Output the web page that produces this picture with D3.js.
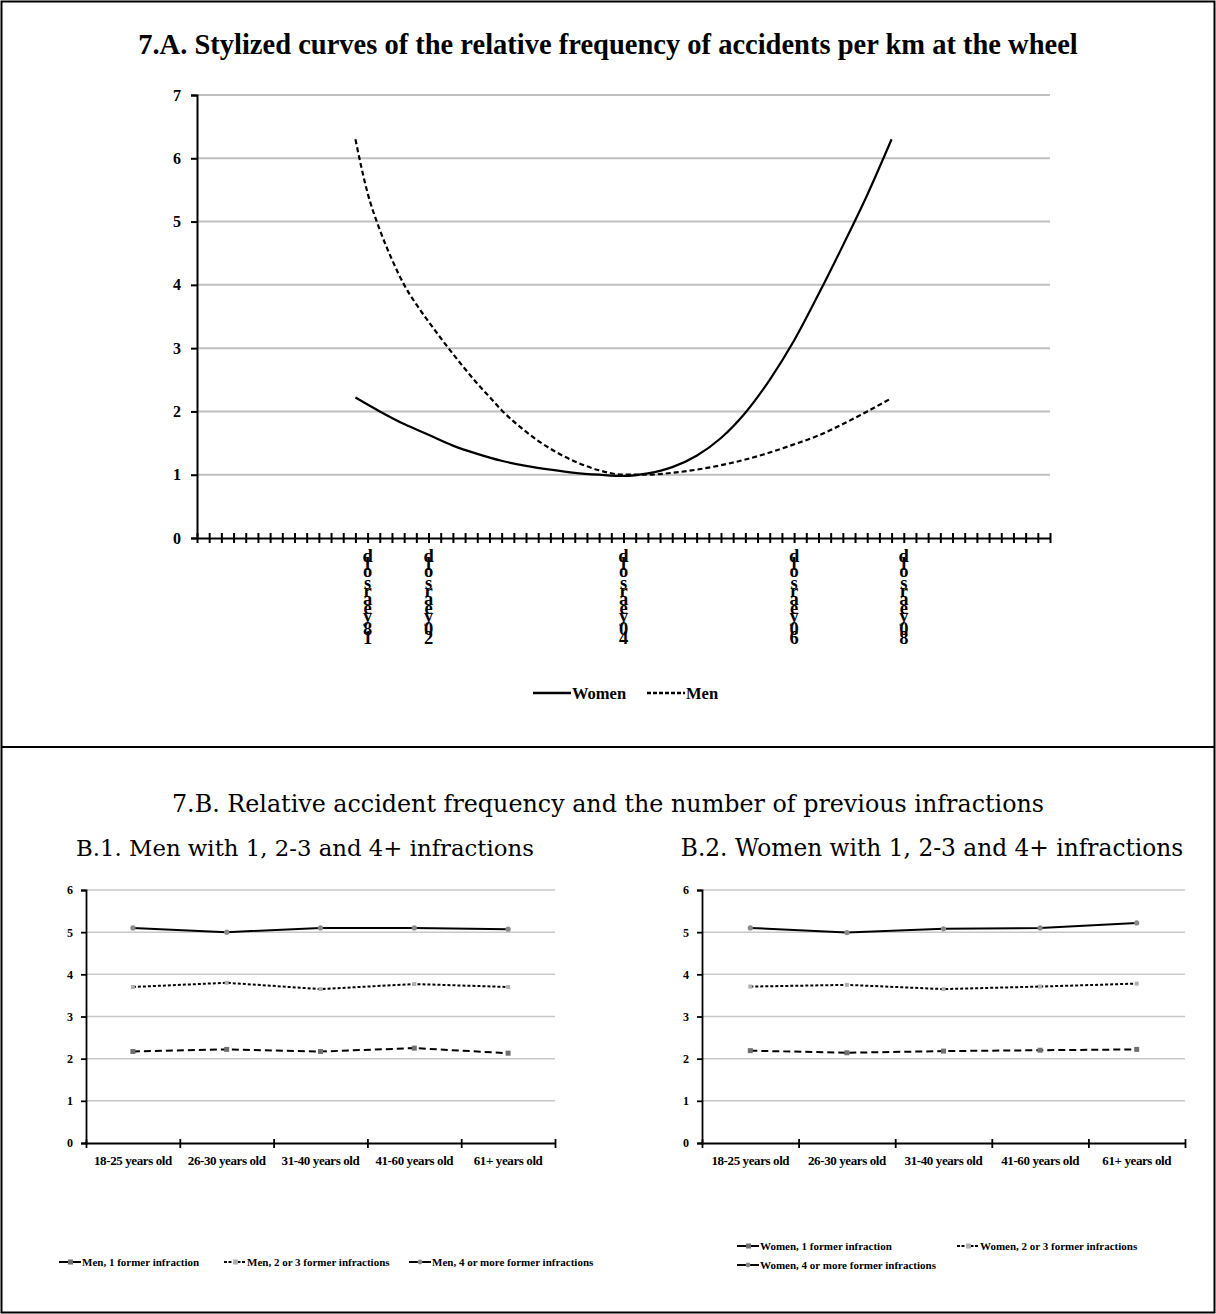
<!DOCTYPE html>
<html>
<head>
<meta charset="utf-8">
<script src="https://cdn.jsdelivr.net/npm/d3@7/dist/d3.min.js"></script>
<style>
  body { margin: 0; background: #fff; }
  svg text { font-family: "Liberation Serif", "Times New Roman", serif; fill: #000; }
</style>
</head>
<body>
<script>
// ---------- data: 7.A ----------
var topYTicks = [0, 1, 2, 3, 4, 5, 6, 7];
var topCategoryCount = 70;
var ageLabels = ["18 years old", "20 years old", "40 years old", "60 years old", "80 years old"];
var ageLabelIndex = [14, 19, 35, 49, 58];

var womenIndex = [13, 15, 17, 19, 21, 23, 25, 27, 29, 31, 33, 35, 37, 39, 41, 43, 45, 47, 49, 51, 53, 55, 57];
var womenValues = [2.22, 2.0, 1.8, 1.63, 1.46, 1.33, 1.22, 1.14, 1.08, 1.03, 1.0, 0.98, 1.02, 1.12, 1.3, 1.58, 1.98, 2.5, 3.12, 3.85, 4.62, 5.42, 6.3];

var menIndex = [13, 14, 15, 16, 17, 18, 19, 20, 21, 22, 23, 24, 25, 27, 29, 31, 33, 35, 37, 39, 41, 43, 45, 47, 49, 51, 53, 55, 57];
var menValues = [6.3, 5.45, 4.87, 4.4, 4.0, 3.69, 3.42, 3.16, 2.91, 2.67, 2.44, 2.23, 2.02, 1.68, 1.41, 1.21, 1.07, 1.0, 1.0, 1.03, 1.08, 1.15, 1.24, 1.35, 1.48, 1.62, 1.8, 2.0, 2.21];

// ---------- data: 7.B ----------
var ageGroups = ["18-25 years old", "26-30 years old", "31-40 years old", "41-60 years old", "61+ years old"];
var bottomYTicks = [0, 1, 2, 3, 4, 5, 6];

var men1 = [2.17, 2.22, 2.17, 2.25, 2.13];
var men23 = [3.7, 3.8, 3.65, 3.77, 3.7];
var men4 = [5.1, 5.0, 5.1, 5.1, 5.07];

var women1 = [2.19, 2.14, 2.18, 2.2, 2.22];
var women23 = [3.71, 3.75, 3.65, 3.71, 3.78];
var women4 = [5.1, 4.99, 5.08, 5.1, 5.22];

var menNames = ["Men, 1 former infraction", "Men, 2 or 3 former infractions", "Men, 4 or more former infractions"];
var womenNames = ["Women, 1 former infraction", "Women, 2 or 3 former infractions", "Women, 4 or more former infractions"];

// line styles per series (1, 2-3, 4+)
var dashes = ["7,4", "3,2", null];
var markerFill = ["#707070", "#b0b0b0", "#8a8a8a"];

var W = 1216, H = 1314;

var svg = d3.select("body").append("svg")
  .attr("width", W)
  .attr("height", H);

// outer frame + divider
svg.append("rect")
  .attr("x", 1.5).attr("y", 1.5)
  .attr("width", W - 3).attr("height", H - 3)
  .attr("fill", "none").attr("stroke", "#000").attr("stroke-width", 2);
svg.append("line")
  .attr("x1", 1).attr("x2", W - 1)
  .attr("y1", 747).attr("y2", 747)
  .attr("stroke", "#000").attr("stroke-width", 2);

// ================= 7.A =================
svg.append("text")
  .attr("x", 608).attr("y", 54)
  .attr("text-anchor", "middle")
  .style("font-weight", "bold").style("font-size", "28.5px")
  .text("7.A. Stylized curves of the relative frequency of accidents per km at the wheel");

var x = d3.scaleLinear().domain([0, topCategoryCount]).range([197, 1050]);
var y = d3.scaleLinear().domain([0, 7]).range([538, 95]);

// gridlines
svg.append("g")
  .selectAll("line")
  .data(topYTicks.filter(function (d) { return d > 0; }))
  .join("line")
  .attr("x1", 197).attr("x2", 1050)
  .attr("y1", function (d) { return y(d); })
  .attr("y2", function (d) { return y(d); })
  .attr("stroke", "#bfbfbf").attr("stroke-width", 2);

// y axis
var yAx = svg.append("g")
  .attr("transform", "translate(197,0)")
  .call(d3.axisLeft(y).tickValues(topYTicks).tickSize(6).tickPadding(10).tickFormat(d3.format("d")));
yAx.select(".domain").attr("stroke-width", 2);
yAx.selectAll(".tick line").attr("stroke-width", 2);
yAx.selectAll("text")
  .style("font-size", "16px").style("font-weight", "bold")
  .style("font-family", "Liberation Serif");

// x axis: many category ticks crossing the line
var xAx = svg.append("g")
  .attr("transform", "translate(0,538)")
  .call(d3.axisBottom(x).tickValues(d3.range(0, topCategoryCount + 1)).tickSize(5).tickSizeOuter(0).tickFormat(""));
xAx.select(".domain").attr("stroke-width", 2);
xAx.selectAll(".tick line").attr("y1", -5).attr("stroke-width", 2);

// x labels: rotated text rendered as upright stacked glyphs
var ctx = document.createElement("canvas").getContext("2d");
ctx.font = "bold 18px 'Liberation Serif'";
ageLabels.forEach(function (lab, k) {
  var chars = lab.split("");
  var widths = chars.map(function (c) { return ctx.measureText(c).width; });
  var total = d3.sum(widths);
  var cum = 0;
  var g = svg.append("g");
  chars.forEach(function (c, i) {
    var cy = 551 + (total - (cum + widths[i] / 2));
    cum += widths[i];
    if (c === " ") return;
    g.append("text")
      .attr("x", x(ageLabelIndex[k]))
      .attr("y", cy)
      .attr("text-anchor", "middle")
      .attr("dominant-baseline", "central")
      .style("font-weight", "bold").style("font-size", "18.5px")
      .text(c);
  });
});

// curves
var curveLine = d3.line()
  .x(function (d) { return x(d[0]); })
  .y(function (d) { return y(d[1]); })
  .curve(d3.curveMonotoneX);

svg.append("path")
  .datum(d3.zip(womenIndex, womenValues))
  .attr("fill", "none").attr("stroke", "#000").attr("stroke-width", 2.2)
  .attr("d", curveLine);

svg.append("path")
  .datum(d3.zip(menIndex, menValues))
  .attr("fill", "none").attr("stroke", "#000").attr("stroke-width", 2.2)
  .attr("stroke-dasharray", "5,3")
  .attr("d", curveLine);

// legend
var topLeg = [
  { name: "Women", dash: null, x0: 533 },
  { name: "Men", dash: "4,2", x0: 647 }
];
topLeg.forEach(function (d) {
  svg.append("line")
    .attr("x1", d.x0).attr("x2", d.x0 + 38)
    .attr("y1", 693).attr("y2", 693)
    .attr("stroke", "#000").attr("stroke-width", 2.5)
    .attr("stroke-dasharray", d.dash);
  svg.append("text")
    .attr("x", d.x0 + 39).attr("y", 699)
    .style("font-weight", "bold").style("font-size", "16.5px")
    .text(d.name);
});

// ================= 7.B =================
svg.append("text")
  .attr("x", 608).attr("y", 812)
  .attr("text-anchor", "middle")
  .style("font-family", "DejaVu Serif").style("font-size", "23.8px")
  .text("7.B. Relative accident frequency and the number of previous infractions");

function drawPanel(opts) {
  var g = svg.append("g");
  var xb = d3.scaleBand().domain(ageGroups).range([opts.left, opts.right]);
  var xl = d3.scaleLinear().domain([0, ageGroups.length]).range([opts.left, opts.right]);
  var yb = d3.scaleLinear().domain([0, 6]).range([1143, 890]);

  g.append("text")
    .attr("x", opts.titleX).attr("y", 856)
    .attr("text-anchor", "middle")
    .style("font-family", "DejaVu Serif").style("font-size", opts.titleSize)
    .text(opts.title);

  g.append("g")
    .selectAll("line")
    .data(bottomYTicks.filter(function (d) { return d > 0; }))
    .join("line")
    .attr("x1", opts.left).attr("x2", opts.right)
    .attr("y1", function (d) { return yb(d); })
    .attr("y2", function (d) { return yb(d); })
    .attr("stroke", "#c8c8c8").attr("stroke-width", 1.5);

  var ya = g.append("g")
    .attr("transform", "translate(" + opts.left + ",0)")
    .call(d3.axisLeft(yb).tickValues(bottomYTicks).tickSize(5).tickPadding(8).tickFormat(d3.format("d")));
  ya.select(".domain").attr("stroke-width", 1.8);
  ya.selectAll(".tick line").attr("stroke-width", 1.8);
  ya.selectAll("text").style("font-size", "12px").style("font-weight", "bold").style("font-family", "Liberation Serif");

  var xa = g.append("g")
    .attr("transform", "translate(0,1143)")
    .call(d3.axisBottom(xl).tickValues(d3.range(0, ageGroups.length + 1)).tickSize(5).tickSizeOuter(0).tickFormat(""));
  xa.select(".domain").attr("stroke-width", 1.8);
  xa.selectAll(".tick line").attr("y1", -4).attr("stroke-width", 1.8);

  var xlab = g.append("g")
    .attr("transform", "translate(0,1143)")
    .call(d3.axisBottom(xb).tickSize(0).tickPadding(13));
  xlab.select(".domain").remove();
  xlab.selectAll("text").style("font-size", "13px").style("font-weight", "bold")
    .style("font-family", "Liberation Serif").style("letter-spacing", "-0.4px");

  var ln = d3.line()
    .x(function (d, i) { return xb(ageGroups[i]) + xb.bandwidth() / 2; })
    .y(function (d) { return yb(d); });

  opts.series.forEach(function (vals, s) {
    g.append("path")
      .datum(vals)
      .attr("fill", "none").attr("stroke", "#000").attr("stroke-width", 2)
      .attr("stroke-dasharray", dashes[s])
      .attr("d", ln);
    var m = g.append("g").selectAll("g").data(vals).join("g")
      .attr("transform", function (d, i) {
        return "translate(" + (xb(ageGroups[i]) + xb.bandwidth() / 2) + "," + yb(d) + ")";
      });
    if (s === 2) {
      m.append("circle").attr("r", 2.6).attr("fill", markerFill[s]);
    } else {
      var sz = s === 0 ? 5 : 4;
      m.append("rect").attr("x", -sz / 2).attr("y", -sz / 2).attr("width", sz).attr("height", sz).attr("fill", markerFill[s]);
    }
  });

  // legend
  opts.legend.forEach(function (p, s) {
    var lg = g.append("g").attr("transform", "translate(" + p[0] + "," + p[1] + ")");
    lg.append("line").attr("x1", 0).attr("x2", 22).attr("y1", 0).attr("y2", 0)
      .attr("stroke", "#000").attr("stroke-width", 2)
      .attr("stroke-dasharray", s === 1 ? "3,1.5" : null);
    if (s === 2) {
      lg.append("circle").attr("cx", 11).attr("r", 2.4).attr("fill", markerFill[s]);
    } else {
      lg.append("rect").attr("x", 9).attr("y", -2.5).attr("width", 5).attr("height", 5).attr("fill", markerFill[s]);
    }
    lg.append("text").attr("x", 23).attr("y", 3.8)
      .style("font-size", "11px").style("font-weight", "bold")
      .text(opts.names[s]);
  });
}

drawPanel({
  left: 86, right: 555, titleX: 305, titleSize: "22.8px",
  title: "B.1. Men with 1, 2-3 and 4+ infractions",
  series: [men1, men23, men4],
  names: menNames,
  legend: [[59, 1262], [224, 1262], [409, 1262]]
});

drawPanel({
  left: 702, right: 1185, titleX: 932, titleSize: "23.3px",
  title: "B.2. Women with 1, 2-3 and 4+ infractions",
  series: [women1, women23, women4],
  names: womenNames,
  legend: [[737, 1246], [957, 1246], [737, 1265]]
});
</script>
</body>
</html>
